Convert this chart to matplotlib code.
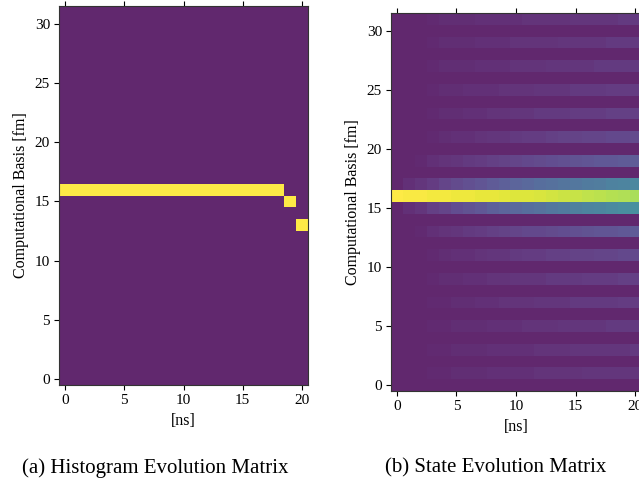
import numpy as np
import matplotlib
matplotlib.use("Agg")
import matplotlib.pyplot as plt

plt.rcParams['font.family'] = 'serif'
plt.rcParams['font.serif'] = ['Liberation Serif', 'DejaVu Serif']

# time steps [ns] and computational basis states
times = list(range(21))
n_basis = 32

# histogram: basis state with the count at each time step
hist_peak = [16, 16, 16, 16, 16, 16, 16, 16, 16, 16, 16,
             16, 16, 16, 16, 16, 16, 16, 16, 15, 13]

# state evolution: probability per basis state (odd rows + centre)
basis_16 = [1.00, 0.99, 0.99, 0.98, 0.98, 0.97, 0.97, 0.96, 0.96, 0.95, 0.94,
            0.94, 0.93, 0.92, 0.91, 0.90, 0.89, 0.88, 0.87, 0.86, 0.85]
basis_17 = [0.00, 0.03, 0.05, 0.07, 0.10, 0.12, 0.14, 0.16, 0.18, 0.20, 0.22,
            0.24, 0.26, 0.27, 0.29, 0.30, 0.32, 0.33, 0.35, 0.36, 0.38]
basis_15 = [0.00, 0.03, 0.05, 0.08, 0.10, 0.13, 0.15, 0.17, 0.20, 0.22, 0.24,
            0.26, 0.28, 0.30, 0.32, 0.34, 0.36, 0.37, 0.39, 0.41, 0.42]
basis_19 = [0.00, 0.00, 0.01, 0.03, 0.04, 0.05, 0.06, 0.07, 0.08, 0.09, 0.10,
            0.11, 0.12, 0.13, 0.14, 0.15, 0.16, 0.17, 0.17, 0.18, 0.19]
basis_13 = [0.00, 0.00, 0.01, 0.03, 0.04, 0.05, 0.06, 0.07, 0.08, 0.09, 0.10,
            0.11, 0.11, 0.12, 0.13, 0.14, 0.15, 0.16, 0.16, 0.17, 0.18]
basis_21 = [0.00, 0.00, 0.00, 0.01, 0.02, 0.03, 0.03, 0.04, 0.05, 0.05, 0.06,
            0.07, 0.07, 0.08, 0.09, 0.09, 0.10, 0.10, 0.11, 0.11, 0.12]
basis_11 = [0.00, 0.00, 0.00, 0.01, 0.02, 0.03, 0.03, 0.04, 0.05, 0.05, 0.06,
            0.07, 0.07, 0.08, 0.08, 0.09, 0.09, 0.10, 0.10, 0.11, 0.11]
basis_23 = [0.00, 0.00, 0.00, 0.01, 0.02, 0.02, 0.03, 0.03, 0.04, 0.04, 0.05,
            0.05, 0.06, 0.06, 0.06, 0.07, 0.07, 0.07, 0.08, 0.08, 0.08]
basis_9 = [0.00, 0.00, 0.00, 0.01, 0.02, 0.02, 0.03, 0.03, 0.04, 0.04, 0.05,
           0.05, 0.05, 0.06, 0.06, 0.06, 0.07, 0.07, 0.07, 0.08, 0.08]
basis_25 = [0.00, 0.00, 0.00, 0.01, 0.02, 0.02, 0.03, 0.03, 0.03, 0.04, 0.04,
            0.04, 0.05, 0.05, 0.05, 0.06, 0.06, 0.06, 0.07, 0.07, 0.07]
basis_7 = [0.00, 0.00, 0.00, 0.01, 0.01, 0.02, 0.02, 0.03, 0.03, 0.04, 0.04,
           0.04, 0.05, 0.05, 0.05, 0.06, 0.06, 0.06, 0.06, 0.07, 0.07]
basis_27 = [0.00, 0.00, 0.00, 0.01, 0.02, 0.02, 0.02, 0.03, 0.03, 0.03, 0.04,
            0.04, 0.04, 0.05, 0.05, 0.05, 0.05, 0.06, 0.06, 0.06, 0.06]
basis_5 = [0.00, 0.00, 0.00, 0.01, 0.01, 0.02, 0.02, 0.02, 0.03, 0.03, 0.03,
           0.04, 0.04, 0.04, 0.05, 0.05, 0.05, 0.05, 0.06, 0.06, 0.06]
basis_29 = [0.00, 0.00, 0.00, 0.01, 0.02, 0.02, 0.02, 0.03, 0.03, 0.03, 0.04,
            0.04, 0.04, 0.04, 0.05, 0.05, 0.05, 0.05, 0.06, 0.06, 0.06]
basis_3 = [0.00, 0.00, 0.00, 0.01, 0.01, 0.02, 0.02, 0.02, 0.03, 0.03, 0.03,
           0.03, 0.04, 0.04, 0.04, 0.05, 0.05, 0.05, 0.05, 0.05, 0.06]
basis_31 = [0.00, 0.00, 0.00, 0.01, 0.02, 0.02, 0.02, 0.03, 0.03, 0.03, 0.03,
            0.04, 0.04, 0.04, 0.04, 0.05, 0.05, 0.05, 0.05, 0.06, 0.06]
basis_1 = [0.00, 0.00, 0.00, 0.01, 0.01, 0.02, 0.02, 0.02, 0.03, 0.03, 0.03,
           0.03, 0.04, 0.04, 0.04, 0.04, 0.05, 0.05, 0.05, 0.05, 0.05]

state_rows = [(16, basis_16), (17, basis_17), (15, basis_15), (19, basis_19),
              (13, basis_13), (21, basis_21), (11, basis_11), (23, basis_23),
              (9, basis_9), (25, basis_25), (7, basis_7), (27, basis_27),
              (5, basis_5), (29, basis_29), (3, basis_3), (31, basis_31),
              (1, basis_1)]

hist = np.zeros((n_basis, len(times)))
for t, b in zip(times, hist_peak):
    hist[b, t] = 1.0

state = np.zeros((n_basis, len(times)))
for b, vals in state_rows:
    state[b, :] = vals

fig = plt.figure(figsize=(6.39, 4.88), dpi=100)
W, H = 639.0, 488.0
ax1 = fig.add_axes([59 / W, (H - 385) / H, 249 / W, 379 / H])
ax2 = fig.add_axes([391 / W, (H - 391) / H, 250 / W, 378 / H])

for ax, mat in [(ax1, hist), (ax2, state)]:
    ax.imshow(mat, origin='lower', cmap='viridis', aspect='auto',
              interpolation='nearest', alpha=0.85, vmin=0, vmax=1)
    ax.set_xticks([0, 5, 10, 15, 20])
    ax.set_yticks([0, 5, 10, 15, 20, 25, 30])
    ax.tick_params(axis='both', labelsize=11, length=3.5, width=0.8,
                   direction='out', top=True, labeltop=False, pad=3)
    ax.tick_params(axis='y', right=False)
    for s in ax.spines.values():
        s.set_linewidth(0.8)
        s.set_color('#333333')
    ax.set_xlabel('[ns]', fontsize=11.5, labelpad=4)
    ax.set_ylabel('Computational Basis [fm]', fontsize=11.5, labelpad=4)

fig.text(155 / W, (H - 468) / H, '(a) Histogram Evolution Matrix',
         ha='center', va='center', fontsize=15)
fig.text(496 / W, (H - 468) / H, '(b) State Evolution Matrix',
         ha='center', va='center', fontsize=15)

fig.savefig('out.png', dpi=100)
